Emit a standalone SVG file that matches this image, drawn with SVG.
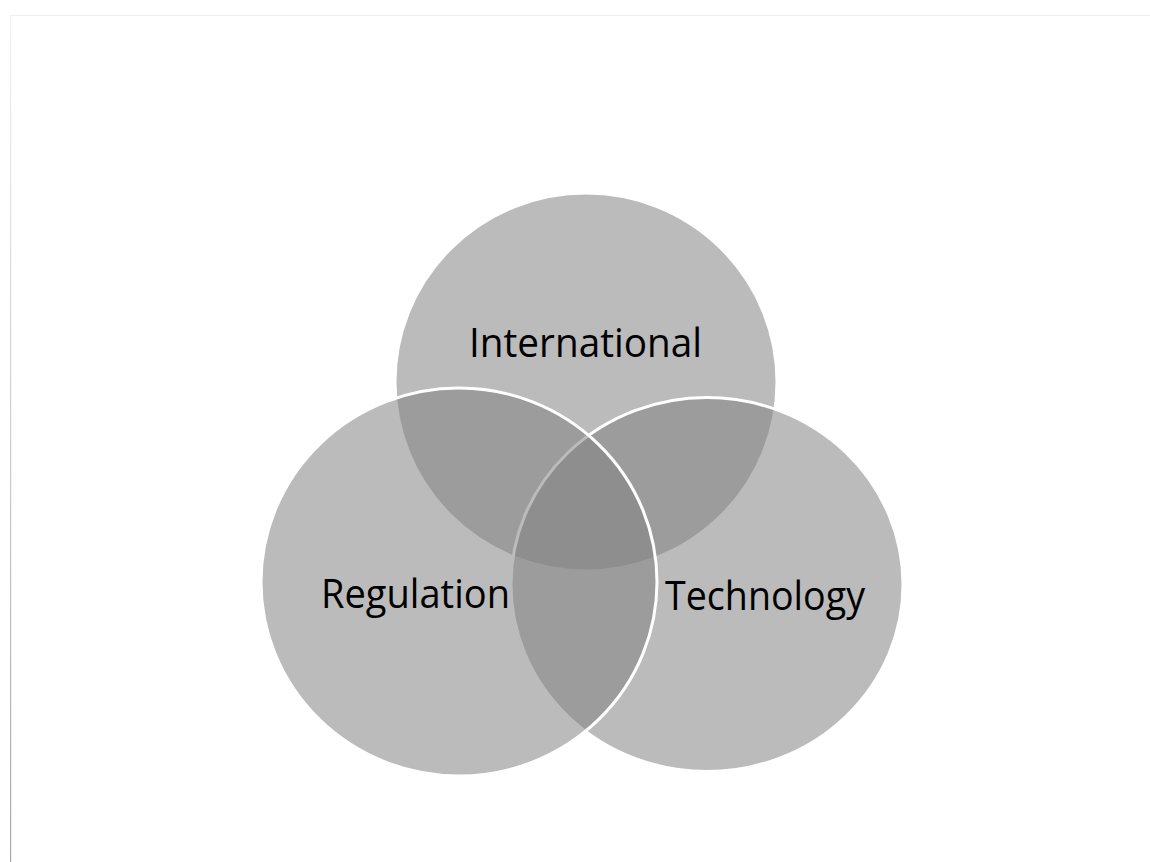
<svg xmlns="http://www.w3.org/2000/svg" width="1150" height="862" viewBox="0 0 1150 862">
<defs>
<linearGradient id="edge" x1="0" y1="0" x2="0" y2="1">
<stop offset="0" stop-color="#f2f2f2"/>
<stop offset="1" stop-color="#a8a8a8"/>
</linearGradient>
<style>
.c{fill:#828282;fill-opacity:0.544;stroke:#ffffff;stroke-width:3}
.t{font-family:"Open Sans","Noto Sans","Liberation Sans",sans-serif;font-size:41px;fill:#000000;text-anchor:middle}
</style>
</defs>
<rect x="0" y="0" width="1150" height="862" fill="#ffffff"/>
<line x1="10" y1="15.5" x2="1150" y2="15.5" stroke="#efefef" stroke-width="1"/>
<rect x="10" y="15" width="1.2" height="847" fill="url(#edge)"/>
<g id="international">
<ellipse class="c" cx="586" cy="382" rx="191" ry="189"/>
</g>
<g id="technology">
<ellipse class="c" cx="707" cy="584.5" rx="196" ry="187"/>
</g>
<g id="regulation">
<ellipse class="c" cx="459" cy="582" rx="198" ry="194"/>
</g>
<g id="labels">
<text class="t" x="585.5" y="357" textLength="233" lengthAdjust="spacingAndGlyphs">International</text>
<text class="t" x="415.5" y="608" textLength="189" lengthAdjust="spacingAndGlyphs">Regulation</text>
<text class="t" x="765" y="610" textLength="200" lengthAdjust="spacingAndGlyphs">Technology</text>
</g>
</svg>
